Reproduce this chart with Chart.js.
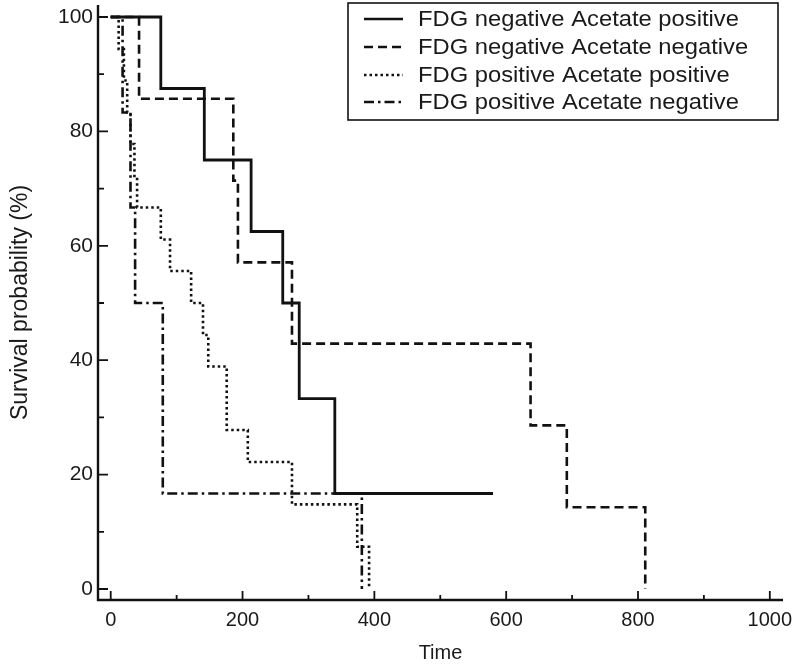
<!DOCTYPE html>
<html>
<head>
<meta charset="utf-8">
<script src="https://cdn.jsdelivr.net/npm/chart.js@4.4.0/dist/chart.umd.min.js"></script>
<style>
html,body{margin:0;padding:0;background:#fff;}
#wrap{width:800px;height:665px;position:relative;}
</style>
</head>
<body>
<div id="wrap"><canvas id="c" width="800" height="665"></canvas></div>
<script>
// Series names
const seriesNames = [
  "FDG negative Acetate positive",
  "FDG negative Acetate negative",
  "FDG positive Acetate positive",
  "FDG positive Acetate negative"
];
// Times (x) and survival probability (%) for each series
const s1Time = [0, 76, 142, 213, 261, 286, 340, 580];
const s1Surv = [100, 87.5, 75, 62.5, 50, 33.3, 16.7, 16.7];
const s2Time = [0, 43, 186, 193, 275, 637, 692, 811];
const s2Surv = [100, 85.7, 71.4, 57.1, 42.9, 28.6, 14.3, 0];
const s3Time = [0, 12, 20, 25, 30, 36, 40, 76, 90, 122, 140, 148, 176, 208, 275, 374, 392];
const s3Surv = [100, 94.4, 88.9, 83.3, 77.8, 72.2, 66.7, 61.1, 55.6, 50, 44.4, 38.9, 27.8, 22.2, 14.8, 7.4, 0];
const s4Time = [0, 18, 30, 37, 79, 381];
const s4Surv = [100, 83.3, 66.7, 50, 16.7, 0];
// Tick values
const xTickVals = [0, 200, 400, 600, 800, 1000];
const xMinorVals = [100, 300, 500, 700, 900];
const yTickVals = [0, 20, 40, 60, 80, 100];
const yMinorVals = [10, 30, 50, 70, 90];
const xTitle = "Time";
const yTitle = "Survival probability (%)";

const dashes = [[], [9, 5], [2.5, 3], [10, 4, 2.5, 4]];
const timesList = [s1Time, s2Time, s3Time, s4Time];
const survList = [s1Surv, s2Surv, s3Surv, s4Surv];

const FONT = "'Liberation Sans', Arial, sans-serif";
const INK = '#111';
const TXT = '#1a1a1a';

const datasets = seriesNames.map((name, i) => ({
  label: name,
  data: timesList[i].map((t, j) => ({x: t, y: survList[i][j]})),
  borderColor: INK,
  borderWidth: i === 0 ? 2.8 : 2.6,
  borderDash: dashes[i],
  stepped: 'before',
  pointRadius: 0,
  fill: false,
  tension: 0
}));

const tickPlugin = {
  id: 'innerTicks',
  afterDraw(chart) {
    const ctx = chart.ctx;
    const xs = chart.scales.x, ys = chart.scales.y;
    const ca = chart.chartArea;
    ctx.save();
    ctx.strokeStyle = INK;
    ctx.lineWidth = 1.8;
    ctx.setLineDash([]);
    ctx.beginPath();
    xTickVals.forEach(v => { const p = xs.getPixelForValue(v); ctx.moveTo(p, ca.bottom); ctx.lineTo(p, ca.bottom - 9); });
    xMinorVals.forEach(v => { const p = xs.getPixelForValue(v); ctx.moveTo(p, ca.bottom); ctx.lineTo(p, ca.bottom - 5); });
    yTickVals.forEach(v => { const p = ys.getPixelForValue(v); ctx.moveTo(ca.left, p); ctx.lineTo(ca.left + 10, p); });
    yMinorVals.forEach(v => { const p = ys.getPixelForValue(v); ctx.moveTo(ca.left, p); ctx.lineTo(ca.left + 6, p); });
    ctx.stroke();
    ctx.lineWidth = 2.4;
    ctx.beginPath();
    ctx.moveTo(ca.left, ca.top);
    ctx.lineTo(ca.left, ca.bottom);
    ctx.lineTo(ca.right, ca.bottom);
    ctx.stroke();
    ctx.restore();
  }
};

const legendPlugin = {
  id: 'boxLegend',
  afterDraw(chart) {
    const ctx = chart.ctx;
    ctx.save();
    const bx = 348, by = 3, bw = 430, bh = 117;
    ctx.strokeStyle = INK;
    ctx.lineWidth = 1.6;
    ctx.setLineDash([]);
    ctx.strokeRect(bx, by, bw, bh);
    ctx.font = "22px " + FONT;
    ctx.fillStyle = TXT;
    ctx.textBaseline = 'middle';
    ctx.textAlign = 'left';
    const rows = [19, 47, 75, 102];
    chart.data.datasets.forEach((ds, i) => {
      const y = rows[i];
      ctx.beginPath();
      ctx.lineWidth = 2.6;
      ctx.setLineDash(ds.borderDash);
      ctx.moveTo(364, y);
      ctx.lineTo(403, y);
      ctx.stroke();
      ctx.setLineDash([]);
      ctx.save();
      ctx.translate(418, y + 1);
      ctx.scale(1.08, 1);
      ctx.fillText(ds.label, 0, 0);
      ctx.restore();
    });
    ctx.restore();
  }
};

new Chart(document.getElementById('c'), {
  type: 'line',
  data: { datasets },
  options: {
    responsive: false,
    animation: false,
    devicePixelRatio: 1,
    layout: { padding: { top: 5, right: 17, left: 0, bottom: 0 } },
    plugins: { legend: { display: false }, tooltip: { enabled: false } },
    scales: {
      x: {
        type: 'linear',
        min: -19.3,
        max: 1020,
        afterFit(s) { s.height = 65; s.paddingLeft = 0; s.paddingRight = 0; },
        afterBuildTicks(s) { s.ticks = xTickVals.map(v => ({value: v})); },
        grid: { display: false, drawTicks: false },
        border: { display: false },
        ticks: { color: TXT, font: { family: FONT, size: 20 }, padding: 8, maxRotation: 0, autoSkip: false,
                 callback: v => String(v) },
        title: { display: true, text: xTitle, color: TXT, font: { family: FONT, size: 20 }, padding: { top: 1, bottom: 0 } }
      },
      y: {
        type: 'linear',
        min: -1.92,
        max: 102.1,
        afterFit(s) { s.width = 98; s.paddingTop = 0; s.paddingBottom = 0; },
        afterBuildTicks(s) { s.ticks = yTickVals.map(v => ({value: v})); },
        grid: { display: false, drawTicks: false },
        border: { display: false },
        ticks: { color: TXT, font: { family: FONT, size: 21 }, padding: 5, autoSkip: false,
                 callback: v => String(v) },
        title: { display: true, text: yTitle, color: TXT, font: { family: FONT, size: 23 }, padding: { top: 7, bottom: 0 } }
      }
    }
  },
  plugins: [tickPlugin, legendPlugin]
});
</script>
</body>
</html>
